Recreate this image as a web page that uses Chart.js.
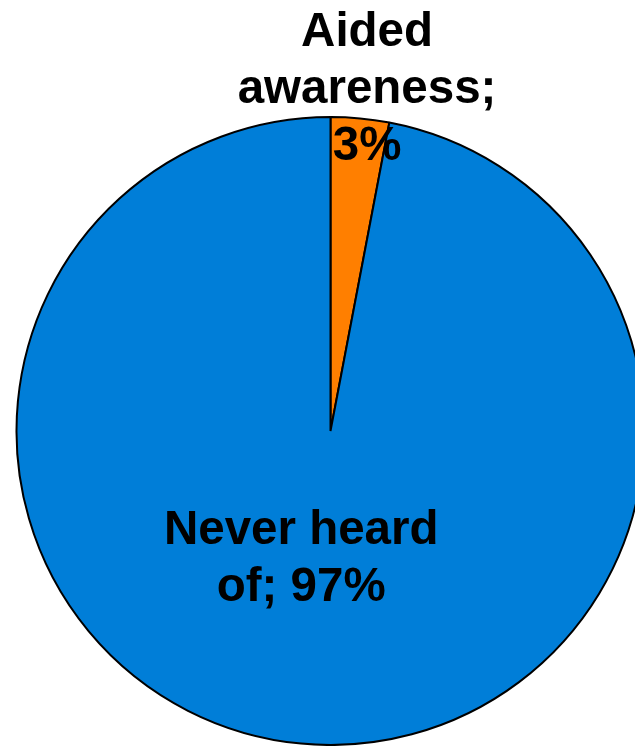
<!DOCTYPE html>
<html>
<head>
<meta charset="utf-8">
<script src="https://cdn.jsdelivr.net/npm/chart.js@4/dist/chart.umd.min.js"></script>
<style>
  html, body { margin: 0; padding: 0; background: #fff; overflow: hidden; width: 635px; height: 746px; }
  #wrap { position: absolute; left: 0; top: 0; width: 660px; height: 746px; }
</style>
</head>
<body>
<div id="wrap"><canvas id="c"></canvas></div>
<script>
const categories = ["Aided awareness", "Never heard of"];
const values = [3, 97];
const labelLines = [["Aided", "awareness;", "3%"], ["Never heard", "of; 97%"]];
const colors = ["#FF7F00", "#007ED8"];

const labelPlugin = {
  id: 'sliceLabels',
  afterDatasetsDraw(chart) {
    const ctx = chart.ctx;
    const meta = chart.getDatasetMeta(0);
    ctx.save();
    ctx.font = "bold 47.5px 'Liberation Sans', Arial, sans-serif";
    ctx.fillStyle = "#000";
    ctx.textAlign = "center";
    ctx.textBaseline = "alphabetic";
    const lh = 57;
    meta.data.forEach((arc, i) => {
      const p = arc.getProps(['x', 'y', 'startAngle', 'endAngle', 'outerRadius']);
      const mid = (p.startAngle + p.endAngle) / 2;
      const lines = labelLines[i];
      let cx, baseLast;
      if (i === 0) {
        const ax = p.x + p.outerRadius * Math.cos(mid);
        const ay = p.y + p.outerRadius * Math.sin(mid);
        cx = ax + 7;
        baseLast = ay + 42;
      } else {
        const r = p.outerRadius * 0.45;
        cx = p.x + r * Math.cos(mid) - 16;
        baseLast = p.y + r * Math.sin(mid) + 29;
      }
      for (let k = 0; k < lines.length; k++) {
        const y = baseLast - (lines.length - 1 - k) * lh;
        ctx.fillText(lines[k], cx, y);
      }
    });
    ctx.restore();
  }
};

new Chart(document.getElementById('c'), {
  type: 'pie',
  data: {
    labels: categories,
    datasets: [{
      data: values,
      backgroundColor: colors,
      borderColor: "#000",
      borderWidth: 2,
      hoverOffset: 0
    }]
  },
  options: {
    responsive: true,
    maintainAspectRatio: false,
    animation: false,
    layout: { padding: { left: 15, right: 14, top: 116, bottom: 0 } },
    plugins: {
      legend: { display: false },
      tooltip: { enabled: false },
      title: { display: false }
    }
  },
  plugins: [labelPlugin]
});
</script>
</body>
</html>
